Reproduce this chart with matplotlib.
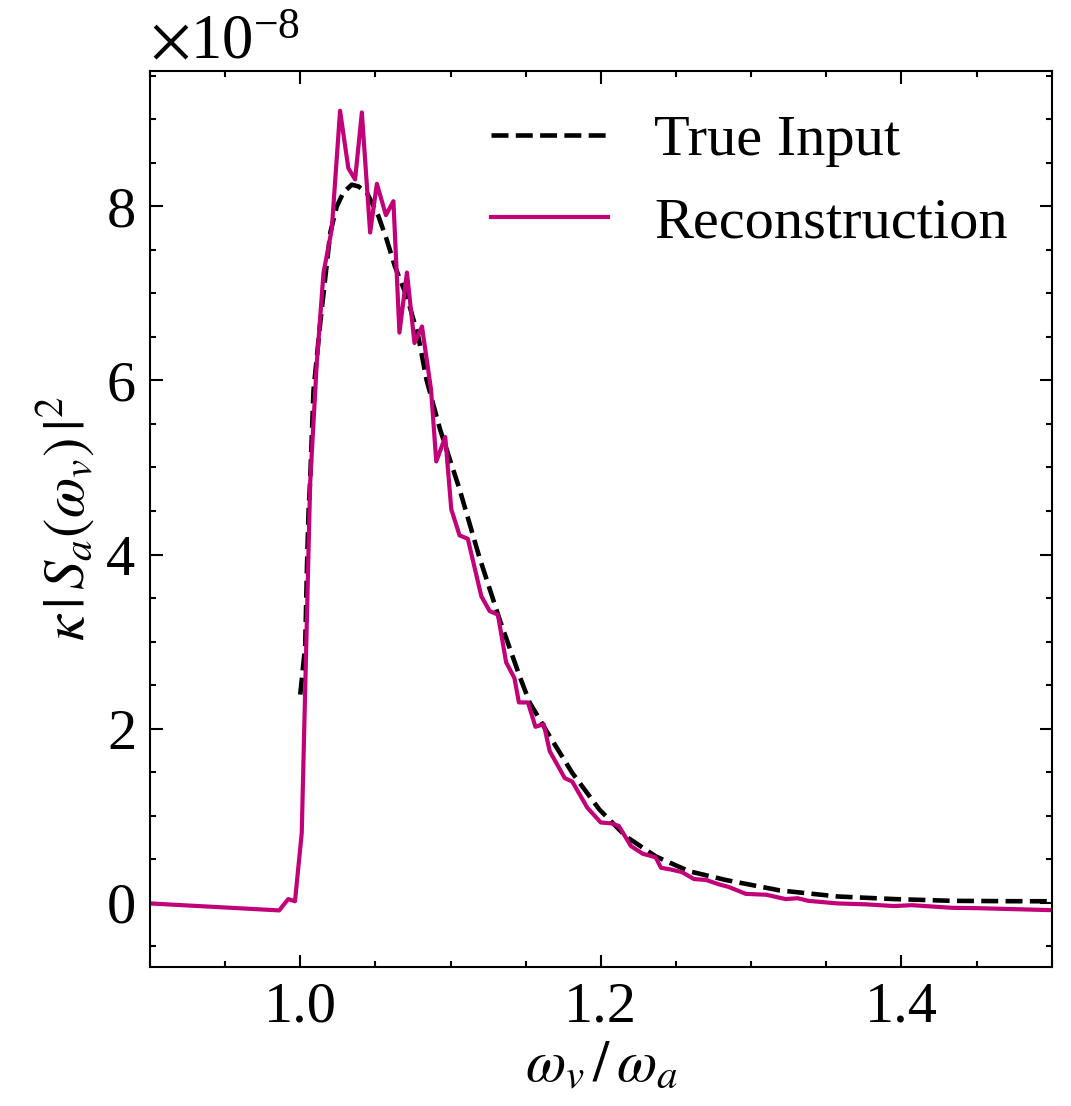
import matplotlib
matplotlib.use("Agg")
import matplotlib.pyplot as plt
from matplotlib.ticker import MultipleLocator, ScalarFormatter

# True input (dashed), values in units of 1e-8
true_x = [1.000, 1.0033, 1.0045, 1.0055, 1.0066, 1.0088, 1.0133, 1.020, 1.0243,
          1.0287, 1.0343, 1.0387, 1.0443, 1.052, 1.0575, 1.063, 1.0708, 1.0785,
          1.084, 1.093, 1.106, 1.119, 1.1327, 1.146, 1.1526, 1.166, 1.181, 1.199,
          1.2167, 1.2366, 1.2587, 1.283, 1.319, 1.3575, 1.3955, 1.4336, 1.47, 1.5]
true_y = [2.39, 2.95, 3.87, 4.48, 4.86, 5.88, 6.66, 7.70, 8.00,
          8.16, 8.25, 8.23, 8.16, 7.89, 7.62, 7.31, 6.97, 6.51,
          6.01, 5.44, 4.75, 3.98, 3.25, 2.60, 2.30, 1.91, 1.49, 1.07,
          0.76, 0.53, 0.36, 0.26, 0.14, 0.07, 0.04, 0.02, 0.016, 0.015]

# Reconstruction
rec_x = [0.90, 0.986, 0.992, 0.9965, 1.001, 1.0066, 1.011, 1.0155, 1.021, 1.0265,
         1.032, 1.0365, 1.041, 1.0465, 1.051, 1.057, 1.062, 1.066, 1.071, 1.076,
         1.081, 1.087, 1.0905, 1.0965, 1.1005, 1.106, 1.1115, 1.1205, 1.126, 1.1315,
         1.137, 1.1425, 1.1455, 1.1515, 1.1565, 1.162, 1.166, 1.176, 1.181, 1.191,
         1.200, 1.207, 1.212, 1.220, 1.228, 1.2365, 1.240, 1.2465, 1.254, 1.262,
         1.270, 1.2785, 1.285, 1.2965, 1.310, 1.323, 1.331, 1.338, 1.3575, 1.376,
         1.395, 1.407, 1.4335, 1.452, 1.4975, 1.5]
rec_y = [-0.01, -0.09, 0.04, 0.015, 0.80, 4.82, 6.20, 7.24, 7.74, 9.10,
         8.44, 8.31, 9.08, 7.70, 8.26, 7.90, 8.06, 6.55, 7.24, 6.43,
         6.62, 5.90, 5.07, 5.35, 4.52, 4.22, 4.18, 3.52, 3.35, 3.31,
         2.76, 2.58, 2.30, 2.30, 2.02, 2.05, 1.74, 1.43, 1.39, 1.09,
         0.92, 0.91, 0.88, 0.65, 0.56, 0.52, 0.40, 0.38, 0.35, 0.27,
         0.26, 0.21, 0.18, 0.10, 0.09, 0.04, 0.05, 0.02, -0.01, -0.02,
         -0.04, -0.03, -0.06, -0.065, -0.086, -0.087]

scale = 1e-8
true_y = [v * scale for v in true_y]
rec_y = [v * scale for v in rec_y]

plt.rcParams["font.family"] = ["Liberation Serif", "DejaVu Serif"]
plt.rcParams["mathtext.fontset"] = "stix"
plt.rcParams["font.size"] = 14
plt.rcParams["xtick.direction"] = "in"
plt.rcParams["ytick.direction"] = "in"
plt.rcParams["xtick.top"] = True
plt.rcParams["ytick.right"] = True
plt.rcParams["axes.linewidth"] = 0.5
plt.rcParams["xtick.major.width"] = 0.5
plt.rcParams["ytick.major.width"] = 0.5
plt.rcParams["xtick.minor.width"] = 0.5
plt.rcParams["ytick.minor.width"] = 0.5
plt.rcParams["xtick.major.size"] = 3
plt.rcParams["ytick.major.size"] = 3
plt.rcParams["xtick.minor.size"] = 1.5
plt.rcParams["ytick.minor.size"] = 1.5
plt.rcParams["xtick.minor.visible"] = True
plt.rcParams["ytick.minor.visible"] = True

fig = plt.figure(figsize=(3.57, 3.687), dpi=300)
ax = fig.add_axes([0.140, 0.1257, 0.842, 0.8103])

ax.plot(true_x, true_y, color="black", linestyle="--", lw=1.1, label="True Input")
ax.plot(rec_x, rec_y, color="#C20078", lw=1.0, label="Reconstruction")

ax.set_xlim(0.9, 1.5)
ax.set_ylim(-0.74e-8, 9.56e-8)
ax.xaxis.set_major_locator(MultipleLocator(0.2))
ax.xaxis.set_minor_locator(MultipleLocator(0.05))
ax.yaxis.set_major_locator(MultipleLocator(2e-8))
ax.yaxis.set_minor_locator(MultipleLocator(0.5e-8))
fmt = ScalarFormatter(useMathText=True)
fmt.set_powerlimits((-3, 3))
ax.yaxis.set_major_formatter(fmt)
ax.yaxis.get_offset_text().set_fontsize(15)

ax.set_xlabel(r"$\omega_v\,/\,\omega_a$", labelpad=2)
ax.set_ylabel(r"$\kappa\,|\,S_a(\omega_v)\,|^2$", labelpad=2)
ax.legend(loc="upper right", frameon=False, handlelength=2.0, borderaxespad=0.35)

fig.savefig("out.png", dpi=300)
